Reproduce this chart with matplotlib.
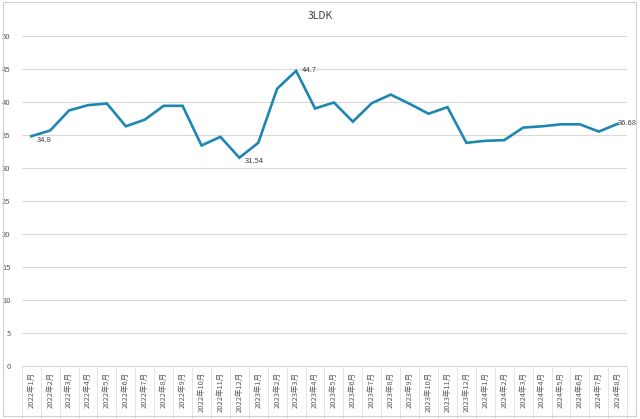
import matplotlib
matplotlib.use("Agg")
import matplotlib.pyplot as plt
from matplotlib.patches import Rectangle

plt.rcParams['font.family'] = ['Noto Sans CJK JP', 'DejaVu Sans']

# 月ラベル
months = ([f"2022年{m}月" for m in range(1, 13)]
          + [f"2023年{m}月" for m in range(1, 13)]
          + [f"2024年{m}月" for m in range(1, 9)])

# 3LDK の値
values = [34.8, 35.66, 38.7, 39.5, 39.75, 36.3, 37.3, 39.4, 39.4, 33.4, 34.7, 31.54,
          33.8, 42.0, 44.7, 39.0, 39.9, 37.0, 39.8, 41.1, 39.7, 38.2, 39.2, 33.8,
          34.1, 34.2, 36.1, 36.3, 36.6, 36.6, 35.5, 36.68]

# ラベルを付ける点
labeled = {0: "34.8", 11: "31.54", 14: "44.7", 31: "36.68"}

line_color = "#1d87b2"

fig = plt.figure(figsize=(6.4, 4.19), dpi=100)
ax = fig.add_axes([0.034, 0.1265, 0.946, 0.788])

x = list(range(len(months)))
ax.plot(x, values, color=line_color, lw=1.9, solid_joinstyle="miter", zorder=3)

for i, txt in labeled.items():
    dy = -2.5 if i in (0, 11) else 0.5
    dx = 0 if i == len(months) - 1 else 4
    ax.annotate(txt, (x[i], values[i]), xytext=(dx, dy), textcoords="offset points",
                ha="left", va="center", fontsize=5.5, color="#404040", zorder=4)

ax.set_xlim(-0.5, len(months) - 0.5)
ax.set_ylim(0, 50)
ax.set_yticks(range(0, 51, 5))
ax.yaxis.grid(True, color="#d9d9d9", lw=0.8)
ax.set_axisbelow(True)

ax.set_xticks(x)
ax.set_xticklabels(months, rotation=90, fontsize=5.4, color="#595959")
ax.set_xticks([i - 0.5 for i in range(len(months) + 1)], minor=True)
ax.tick_params(axis="x", which="major", length=0, pad=4)
ax.tick_params(axis="x", which="minor", length=40, color="#e0e0e0", width=0.6)
ax.tick_params(axis="y", length=0, labelsize=5.5, labelcolor="#595959", pad=8)

for s in ["top", "right", "left"]:
    ax.spines[s].set_visible(False)
ax.spines["bottom"].set_color("#d9d9d9")
ax.spines["bottom"].set_linewidth(0.8)

fig.text(0.5, 0.962, "3LDK", ha="center", va="center", fontsize=7.5, color="#404040")

fig.patches.append(Rectangle((0.004, 0.006), 0.99, 0.99, transform=fig.transFigure,
                             fill=False, edgecolor="#d0d0d0", lw=0.8))

fig.savefig("out.png", dpi=100)
